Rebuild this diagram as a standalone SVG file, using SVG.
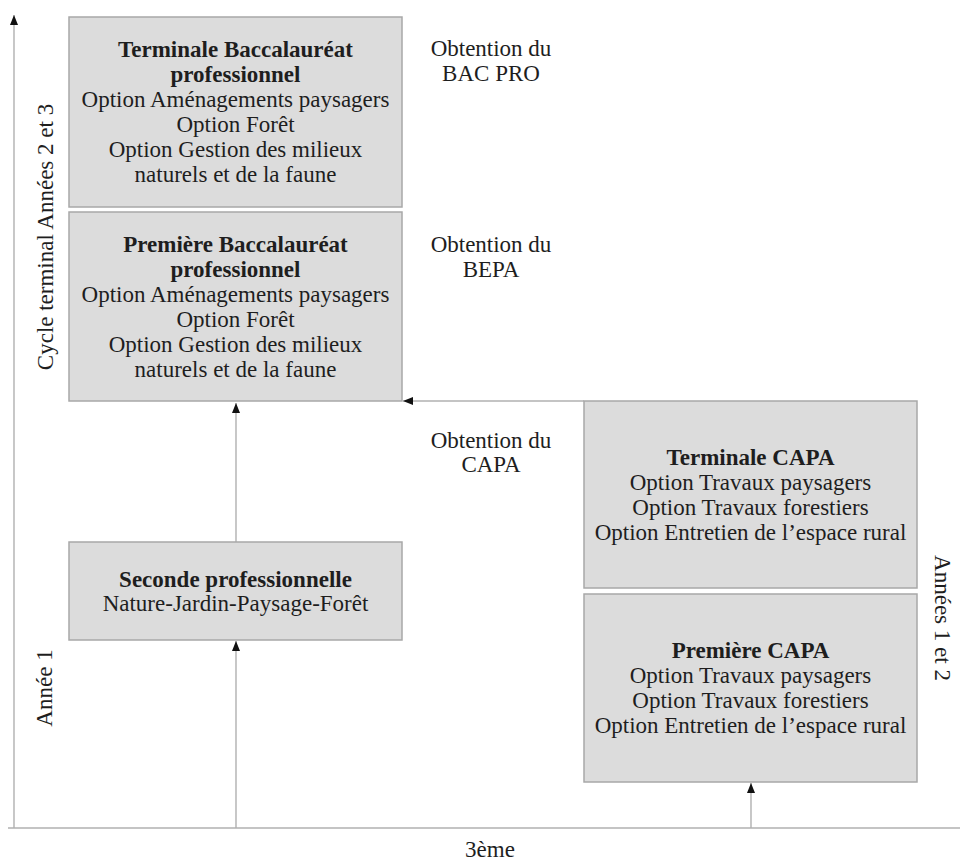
<svg xmlns="http://www.w3.org/2000/svg" width="960" height="863" viewBox="0 0 960 863">
<style>
.box{fill:#dcdcdc;stroke:#a8a8a8;stroke-width:1.5}
.ln{stroke:#b0b0b0;stroke-width:1.4;fill:none}
text{font-family:"Liberation Serif","Times New Roman",serif;font-size:23px;fill:#1e1e1e;text-anchor:middle}
.b{font-weight:bold}
</style>
<defs>
<marker id="ah" viewBox="0 0 10 10" refX="10" refY="5" markerWidth="10" markerHeight="10" markerUnits="userSpaceOnUse" orient="auto">
<path d="M0,1 L10,5 L0,9 Z" fill="#111"/>
</marker>
</defs>
<rect width="960" height="863" fill="#ffffff"/>
<g id="connectors">
<line class="ln" x1="14" y1="828" x2="14" y2="15" marker-end="url(#ah)"/>
<line class="ln" x1="8" y1="828" x2="960" y2="828"/>
<line class="ln" x1="236" y1="828" x2="236" y2="641" marker-end="url(#ah)"/>
<line class="ln" x1="236" y1="542" x2="236" y2="403" marker-end="url(#ah)"/>
<line class="ln" x1="584" y1="401" x2="403" y2="401" marker-end="url(#ah)"/>
<line class="ln" x1="751" y1="828" x2="751" y2="783" marker-end="url(#ah)"/>
</g>
<g id="terminale-bac">
<rect class="box" x="69" y="17" width="333" height="190"/>
<text x="235.5" y="57" class="b">Terminale Baccalauréat</text>
<text x="235.5" y="82" class="b">professionnel</text>
<text x="235.5" y="107">Option Aménagements paysagers</text>
<text x="235.5" y="132">Option Forêt</text>
<text x="235.5" y="157">Option Gestion des milieux</text>
<text x="235.5" y="182">naturels et de la faune</text>
</g>
<g id="premiere-bac">
<rect class="box" x="69" y="212" width="333" height="189"/>
<text x="235.5" y="252" class="b">Première Baccalauréat</text>
<text x="235.5" y="277" class="b">professionnel</text>
<text x="235.5" y="302">Option Aménagements paysagers</text>
<text x="235.5" y="327">Option Forêt</text>
<text x="235.5" y="352">Option Gestion des milieux</text>
<text x="235.5" y="377">naturels et de la faune</text>
</g>
<g id="seconde-pro">
<rect class="box" x="69" y="542" width="333" height="98"/>
<text x="235.5" y="587" class="b">Seconde professionnelle</text>
<text x="235.5" y="611">Nature-Jardin-Paysage-Forêt</text>
</g>
<g id="terminale-capa">
<rect class="box" x="584" y="401" width="333" height="187"/>
<text x="750.5" y="465" class="b">Terminale CAPA</text>
<text x="750.5" y="490">Option Travaux paysagers</text>
<text x="750.5" y="515">Option Travaux forestiers</text>
<text x="750.5" y="540">Option Entretien de l’espace rural</text>
</g>
<g id="premiere-capa">
<rect class="box" x="584" y="594" width="333" height="188"/>
<text x="750.5" y="658" class="b">Première CAPA</text>
<text x="750.5" y="683">Option Travaux paysagers</text>
<text x="750.5" y="708">Option Travaux forestiers</text>
<text x="750.5" y="733">Option Entretien de l’espace rural</text>
</g>
<g id="labels">
<text x="491" y="56">Obtention du</text>
<text x="491" y="81">BAC PRO</text>
<text x="491" y="252">Obtention du</text>
<text x="491" y="277">BEPA</text>
<text x="491" y="448">Obtention du</text>
<text x="491" y="472">CAPA</text>
<text x="490" y="857">3ème</text>
<text transform="translate(53,237) rotate(-90)">Cycle terminal Années 2 et 3</text>
<text transform="translate(52,688) rotate(-90)">Année 1</text>
<text transform="translate(935,618) rotate(90)">Années 1 et 2</text>
</g>
</svg>
